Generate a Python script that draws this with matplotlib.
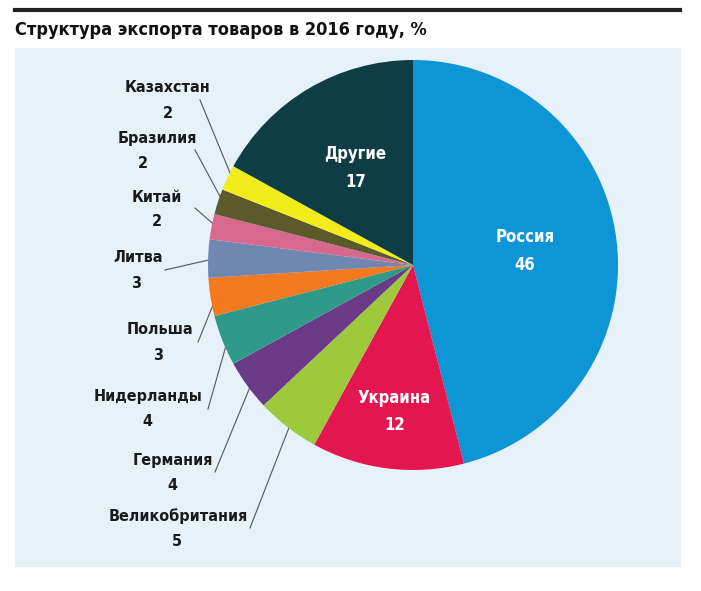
import numpy as np
import matplotlib
matplotlib.use("Agg")
import matplotlib.pyplot as plt
from matplotlib import font_manager

names = ["Россия", "Украина", "Великобритания", "Германия", "Нидерланды",
         "Польша", "Литва", "Китай", "Бразилия", "Казахстан", "Другие"]
values = [46, 12, 5, 4, 4, 3, 3, 2, 2, 2, 17]
colors = ["#0e95d6", "#e3164f", "#9cca3c", "#6b3a86", "#2f9a8a",
          "#f4791f", "#6f87b1", "#d6698d", "#5c5a2b", "#f3ec1c", "#0f3d45"]

# outside label positions (pixels): text x, name y, value x, line start
outside = {
    "Казахстан": (168, 88, 168, (200, 100)),
    "Бразилия": (157, 138, 143, (195, 150)),
    "Китай": (157, 197, 157, (195, 208)),
    "Литва": (138, 258, 136, (165, 270)),
    "Польша": (160, 330, 158, (198, 342)),
    "Нидерланды": (148, 397, 147, (208, 409)),
    "Германия": (173, 460, 172, (215, 472)),
    "Великобритания": (178, 516, 177, (250, 528)),
}

plt.rcParams["font.family"] = "DejaVu Sans"
plt.rcParams["font.stretch"] = "condensed"
plt.rcParams["font.weight"] = "bold"

W, H = 701, 591
fig = plt.figure(figsize=(W / 100, H / 100), dpi=100)
bg = fig.add_axes([0, 0, 1, 1])
bg.set_xlim(0, W)
bg.set_ylim(H, 0)
bg.axis("off")
bg.add_patch(plt.Rectangle((15, 48), 665, 518, color="#e6f1fa", zorder=0))
bg.plot([15, 680], [10, 10], color="#222222", lw=3)
bg.text(15, 30, "Структура экспорта товаров в 2016 году, %", fontsize=13,
        fontweight="bold", va="center", color="#111111")

cx, cy, r = 413, 265, 205
ax = fig.add_axes([(cx - r) / W, (H - cy - r) / H, 2 * r / W, 2 * r / H])
wedges, _ = ax.pie(values, colors=colors, startangle=90, counterclock=False,
                   wedgeprops=dict(linewidth=0))
ax.set_xlim(-1, 1)
ax.set_ylim(-1, 1)
ax.set_aspect("equal")

total = sum(values)
start = 90.0
for name, v, w in zip(names, values, wedges):
    mid = np.deg2rad(start - v / total * 360 / 2)
    start -= v / total * 360
    if name in outside:
        tx, ty, vx, (lx, ly) = outside[name]
        bg.text(tx, ty, name, ha="center", va="center", fontsize=11.5, color="#1a1a1a")
        bg.text(vx, ty + 25, str(v), ha="center", va="center", fontsize=11.5,
                color="#1a1a1a")
        ex = cx + r * 0.97 * np.cos(mid)
        ey = cy - r * 0.97 * np.sin(mid)
        bg.plot([lx, ex], [ly, ey], color="#555555", lw=0.8, zorder=5)
    else:
        k = 0.55 if name != "Украина" else 0.72
        ax.text(k * np.cos(mid), k * np.sin(mid), f"{name}\n{v}", ha="center",
                va="center", fontsize=12, color="white", linespacing=1.7)

fig.savefig("out.png", dpi=100)
